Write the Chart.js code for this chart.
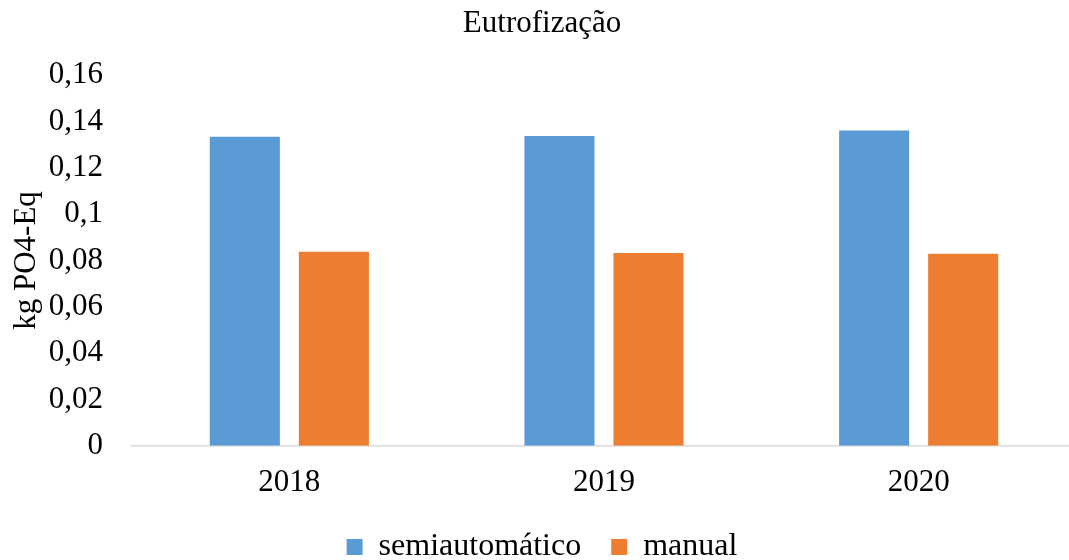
<!DOCTYPE html>
<html>
<head>
<meta charset="utf-8">
<script src="https://cdn.jsdelivr.net/npm/chart.js@4"></script>
<style>
html,body{margin:0;padding:0;background:#fff;overflow:hidden;width:1069px;height:560px;}
canvas{display:block;}
</style>
</head>
<body>
<canvas id="c" width="1076" height="573"></canvas>
<script>
const categories = ['2018', '2019', '2020'];
const semiautomatico = [0.1334, 0.1337, 0.1361];
const manual = [0.0838, 0.0832, 0.0829];
const yTickLabels = ['0', '0,02', '0,04', '0,06', '0,08', '0,1', '0,12', '0,14', '0,16'];
const seriesNames = ['semiautomático', 'manual'];
const chartTitle = 'Eutrofização';
const yAxisTitle = 'kg PO4-Eq';

const FONT = "'Liberation Serif', 'Times New Roman', serif";
Chart.defaults.font.family = FONT;
Chart.defaults.color = '#000';

new Chart(document.getElementById('c'), {
  type: 'bar',
  data: {
    labels: categories,
    datasets: [
      { label: seriesNames[0], data: semiautomatico, backgroundColor: '#5B9BD5', borderWidth: 0 },
      { label: seriesNames[1], data: manual, backgroundColor: '#ED7D31', borderWidth: 0 }
    ]
  },
  options: {
    responsive: false,
    animation: false,
    devicePixelRatio: 1,
    categoryPercentage: 0.566,
    barPercentage: 0.787,
    layout: { padding: { left: 8, right: 0, top: 5, bottom: 0 } },
    plugins: {
      title: {
        display: true,
        text: chartTitle,
        font: { size: 31, weight: 'normal', family: FONT },
        color: '#000',
        padding: { top: 0, bottom: 33 }
      },
      legend: {
        position: 'bottom',
        labels: {
          font: { size: 32, family: FONT },
          color: '#000',
          boxWidth: 16,
          boxHeight: 16,
          padding: 30
        }
      },
      tooltip: { enabled: false }
    },
    scales: {
      x: {
        grid: { display: false, drawTicks: false },
        border: { display: true, color: '#D9D9D9', width: 1.5 },
        ticks: { font: { size: 31, family: FONT }, color: '#000', padding: 18 },
        afterFit: (s) => { s.height = s.height - 18; }
      },
      y: {
        min: 0,
        max: 0.16,
        grid: { display: false, drawTicks: false },
        border: { display: false },
        ticks: {
          stepSize: 0.02,
          font: { size: 31, family: FONT },
          color: '#000',
          padding: 29,
          callback: (v, i) => yTickLabels[i]
        },
        title: {
          display: true,
          text: yAxisTitle,
          font: { size: 31, family: FONT },
          color: '#000',
          padding: 0
        },
        afterFit: (s) => { s.width = 124; }
      }
    }
  }
});
</script>
</body>
</html>
